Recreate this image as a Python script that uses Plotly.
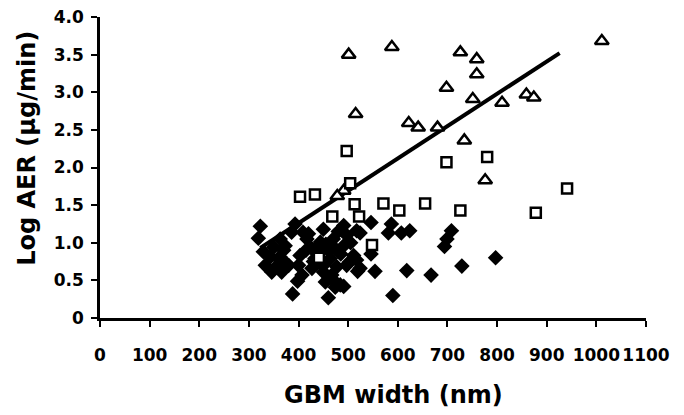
import plotly.graph_objects as go

# Diamonds (filled)
dia_x = [323, 319, 329, 333, 346, 343, 350, 359, 363, 366, 376, 380, 386, 393, 388, 398,
         403, 407, 417, 420, 427, 433, 437, 444, 450, 450, 454, 450, 455, 460, 464, 467,
         469, 474, 474, 477, 484, 491, 491, 491, 497, 497, 502, 511, 517, 517, 519, 524,
         524, 546, 546, 554, 581, 587, 590, 607, 618, 624, 667, 694, 699, 708, 729, 797,
         470, 480, 460, 485, 505, 440, 430, 415, 400, 370, 355, 373, 409, 427, 363]
dia_y = [1.22, 1.06, 0.88, 0.70, 0.61, 0.81, 0.94, 0.79, 1.05, 0.61, 0.72, 0.70, 1.14, 1.25, 0.32, 0.49,
         0.83, 0.57, 1.05, 1.12, 0.66, 0.79, 0.88, 1.01, 1.18, 0.70, 0.48, 0.61, 0.98, 0.27, 0.79, 0.57,
         0.51, 0.92, 0.41, 0.68, 0.44, 1.23, 0.96, 0.42, 1.10, 0.70, 0.74, 0.83, 1.16, 0.77, 0.62, 0.66,
         1.13, 1.27, 0.85, 0.62, 1.13, 1.25, 0.30, 1.13, 0.63, 1.16, 0.57, 0.95, 1.05, 1.16, 0.69, 0.80,
         1.05, 1.15, 0.90, 0.85, 1.00, 0.95, 0.75, 0.90, 0.70, 0.90, 0.68, 0.96, 1.14, 0.92, 0.81]

# Squares (open)
sq_x = [497, 698, 780, 941, 504, 403, 433, 513, 571, 603, 655, 726, 878, 468, 522, 548, 441]
sq_y = [2.22, 2.07, 2.14, 1.72, 1.79, 1.61, 1.64, 1.51, 1.52, 1.43, 1.52, 1.43, 1.40, 1.35, 1.35, 0.97, 0.80]

# Triangles (open)
tri_x = [501, 588, 726, 759, 759, 1011, 698, 751, 810, 859, 874, 515, 622, 641, 680, 734, 776, 491, 478]
tri_y = [3.50, 3.60, 3.53, 3.44, 3.24, 3.68, 3.06, 2.91, 2.86, 2.97, 2.93, 2.71, 2.59, 2.53, 2.53, 2.36, 1.83, 1.69, 1.62]

# Regression line end points
trend_x = [323, 926]
trend_y = [0.93, 3.52]

x_ticks = list(range(0, 1101, 100))
y_ticks = [0, 0.5, 1.0, 1.5, 2.0, 2.5, 3.0, 3.5, 4.0]
y_tick_text = ["0", "0.5", "1.0", "1.5", "2.0", "2.5", "3.0", "3.5", "4.0"]

x_title = "GBM width (nm)"
y_title = "Log AER (µg/min)"

FONT = "DejaVu Sans"

fig = go.Figure()
fig.add_trace(go.Scatter(x=dia_x, y=dia_y, mode="markers",
                         marker=dict(symbol="diamond", size=12, color="black",
                                     line=dict(width=0)), cliponaxis=False))
fig.add_trace(go.Scatter(x=trend_x, y=trend_y, mode="lines",
                         line=dict(color="black", width=4)))
fig.add_trace(go.Scatter(x=tri_x, y=tri_y, mode="markers",
                         marker=dict(symbol="triangle-up", size=12, color="white",
                                     line=dict(width=2.5, color="black")), cliponaxis=False))
fig.add_trace(go.Scatter(x=sq_x, y=sq_y, mode="markers",
                         marker=dict(symbol="square", size=10, color="white",
                                     line=dict(width=2.5, color="black")), cliponaxis=False))

axis_common = dict(showline=True, linecolor="black", linewidth=2.5, ticks="outside",
                   ticklen=6, tickwidth=2, tickcolor="black", showgrid=False, zeroline=False,
                   automargin=False, ticklabeloverflow="allow",
                   tickfont=dict(family=FONT, size=17, color="black", weight="bold"))

fig.update_xaxes(range=[0, 1100], tickvals=x_ticks, ticklabelstandoff=14, **axis_common)
fig.update_yaxes(range=[0, 4], tickvals=y_ticks, ticktext=y_tick_text, ticklabelstandoff=4,
                 **axis_common)

title_font = dict(family=FONT, size=24, color="black", weight="bold")
fig.add_annotation(text=x_title, xref="paper", yref="paper", x=0.537, y=-0.256,
                   xanchor="center", yanchor="middle", showarrow=False, font=title_font)
fig.add_annotation(text=y_title, xref="paper", yref="paper", x=-0.134, y=0.565,
                   xanchor="center", yanchor="middle", textangle=-90, showarrow=False,
                   font=title_font)

# page body has an 8px default margin, so the figure is offset by 8px
fig.update_layout(width=676, height=407, margin=dict(l=92, r=38, t=9, b=97),
                  plot_bgcolor="white", paper_bgcolor="white", showlegend=False)

fig.write_html("out.html")
